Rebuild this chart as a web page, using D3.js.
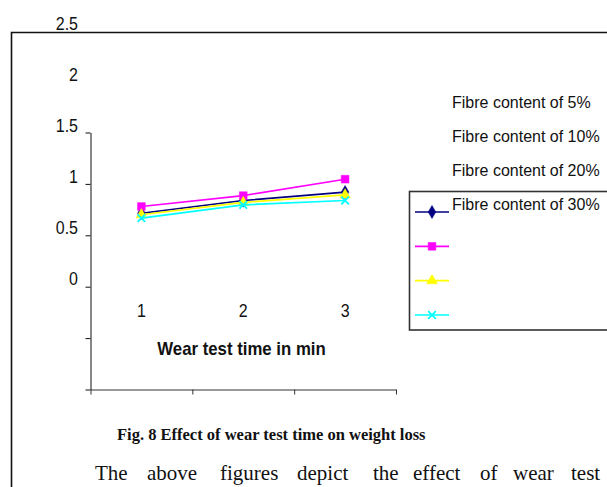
<!DOCTYPE html>
<html>
<head>
<meta charset="utf-8">
<script src="https://cdn.jsdelivr.net/npm/d3@7"></script>
<style>
  html, body { margin: 0; padding: 0; background: #fff; }
  svg { display: block; }
</style>
</head>
<body>
<svg id="chart" width="607" height="487"></svg>
<script>
// Wear test time (min) categories
const categories = [1, 2, 3];
// Weight loss for each fibre content
const series5  = [0.715, 0.838, 0.92];
const series10 = [0.78, 0.886, 1.046];
const series20 = [0.70, 0.82, 0.893];
const series30 = [0.667, 0.796, 0.838];
const seriesNames = ["Fibre content of 5%", "Fibre content of 10%", "Fibre content of 20%", "Fibre content of 30%"];
const yTickLabels = [0, 0.5, 1, 1.5, 2, 2.5];
const yTickValues = [-1, -0.5, 0, 0.5, 1, 1.5];
const bodyWords = ["The", "above", "figures", "depict", "the", "effect", "of", "wear", "test"];

const series = [
  { name: seriesNames[0], values: series5,  color: "#000080", symbol: d3.symbolDiamond, size: 50, fill: true },
  { name: seriesNames[1], values: series10, color: "#FF00FF", symbol: d3.symbolSquare,  size: 60, fill: true },
  { name: seriesNames[2], values: series20, color: "#FFFF00", symbol: d3.symbolTriangle, size: 50, fill: true },
  { name: seriesNames[3], values: series30, color: "#00FFFF", symbol: d3.symbolTimes,  size: 40, fill: false }
];

const svg = d3.select("#chart");
const sans = "'Liberation Sans', Arial, sans-serif";
const serif = "'Liberation Serif', 'Times New Roman', serif";

// Outer frame of the chart area
svg.append("path")
  .attr("d", "M11.5,490 V32.5 H610")
  .attr("fill", "none").attr("stroke", "#111").attr("stroke-width", 1.6);

// Scales
const x = d3.scaleBand().domain(categories).range([90.5, 396]).paddingInner(0).paddingOuter(0);
const y = d3.scaleLinear().domain([-1, 1.5]).range([389.5, 132.5]);
const yLab = d3.scaleLinear().domain([0, 2.5]).range([285, 30]);

// Y axis (ticks only, labels placed separately)
const yAxis = d3.axisLeft(y).tickValues(yTickValues).tickFormat("").tickSize(5).tickSizeOuter(0);
svg.append("g").attr("transform", "translate(90.5,0)").call(yAxis)
  .call(g => g.selectAll("line,path").attr("stroke", "#111"));

svg.append("g").selectAll("text").data(yTickLabels).join("text")
  .attr("transform", d => `translate(78,${yLab(d)}) scale(1,1.14)`)
  .attr("text-anchor", "end")
  .style("font-family", sans).style("font-size", "16px").attr("fill", "#111")
  .text(d => d);

// X axis at the bottom with category boundaries as ticks
const xLin = d3.scaleLinear().domain([0, categories.length]).range(x.range());
const xAxis = d3.axisBottom(xLin).tickValues(d3.range(categories.length + 1)).tickFormat("").tickSize(5).tickSizeOuter(0);
svg.append("g").attr("transform", "translate(0,389.5)").call(xAxis)
  .call(g => g.selectAll("line,path").attr("stroke", "#333"));

svg.append("g").selectAll("text").data(categories).join("text")
  .attr("transform", d => `translate(${x(d) + x.bandwidth() / 2},317) scale(1,1.14)`)
  .attr("text-anchor", "middle")
  .style("font-family", sans).style("font-size", "16px").attr("fill", "#111")
  .text(d => d);

svg.append("text")
  .attr("transform", "translate(241.5,354.5) scale(1,1.1)")
  .attr("text-anchor", "middle")
  .style("font-family", sans).style("font-size", "16.8px").style("font-weight", "bold").attr("fill", "#111")
  .text("Wear test time in min");

// Series lines and markers
const cx = d => x(d) + x.bandwidth() / 2;
const line = d3.line().x((d, i) => cx(categories[i])).y(d => y(d));
const plot = svg.append("g");
series.forEach(s => {
  plot.append("path").datum(s.values)
    .attr("d", line).attr("fill", "none").attr("stroke", s.color).attr("stroke-width", 1.6);
  plot.selectAll(null).data(s.values).join("path")
    .attr("transform", (d, i) => `translate(${cx(categories[i])},${y(d)})`)
    .attr("d", d3.symbol().type(s.symbol).size(s.size))
    .attr("fill", s.fill ? s.color : "none")
    .attr("stroke", s.color).attr("stroke-width", s.fill ? 0.5 : 1.8);
});

// Legend box with symbol entries
svg.append("rect")
  .attr("x", 409.5).attr("y", 191.5).attr("width", 220).attr("height", 138.5)
  .attr("fill", "#fff").attr("stroke", "#333").attr("stroke-width", 1.6);

const legY = d3.scaleLinear().domain([0, 3]).range([212, 315]);
series.forEach((s, i) => {
  const g = svg.append("g").attr("transform", `translate(0,${legY(i)})`);
  g.append("line").attr("x1", 415).attr("x2", 449).attr("y1", 0).attr("y2", 0)
    .attr("stroke", s.color).attr("stroke-width", 1.6);
  g.append("path").attr("transform", "translate(432,0)")
    .attr("d", d3.symbol().type(s.symbol).size(s.size))
    .attr("fill", s.fill ? s.color : "none")
    .attr("stroke", s.color).attr("stroke-width", s.fill ? 0.5 : 1.8);
});

const legTextY = d3.scaleLinear().domain([0, 3]).range([108, 210]);
svg.append("g").selectAll("text").data(seriesNames).join("text")
  .attr("x", 452).attr("y", (d, i) => legTextY(i))
  .style("font-family", sans).style("font-size", "16px").attr("fill", "#111")
  .text(d => d);

// Figure caption
svg.append("text")
  .attr("x", 117).attr("y", 440)
  .style("font-family", serif).style("font-size", "16.5px").style("font-weight", "bold").attr("fill", "#111")
  .text("Fig. 8 Effect of wear test time on weight loss");

// Start of the following paragraph (justified line)
const wordX = [95, 147, 220, 297, 373, 413, 480, 513, 571];
svg.append("g").selectAll("text").data(bodyWords).join("text")
  .attr("x", (d, i) => wordX[i]).attr("y", 480)
  .style("font-family", serif).style("font-size", "21px").attr("fill", "#111")
  .text(d => d);
</script>
</body>
</html>
